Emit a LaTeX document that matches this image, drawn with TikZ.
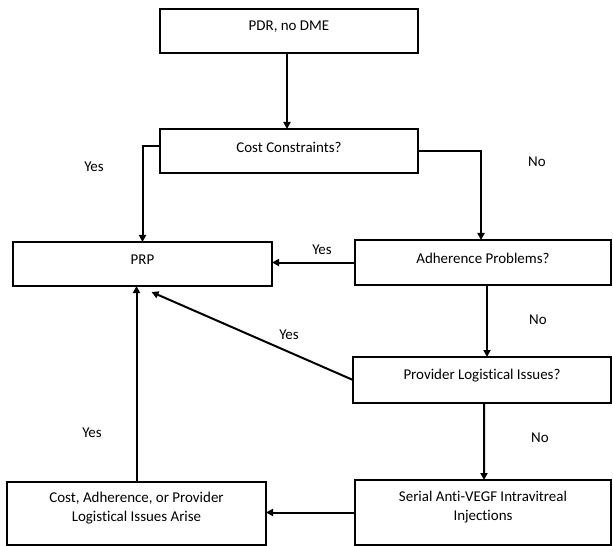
\documentclass[tikz,border=0pt]{standalone}
\usepackage{fontspec}
\setmainfont{Carlito}[Ligatures={NoCommon}]
\usetikzlibrary{arrows.meta}
\begin{document}
\begin{tikzpicture}[x=1bp,y=-1bp,
  box/.style={draw, line width=2.4bp, inner sep=0pt, outer sep=0pt},
  txt/.style={font=\fontsize{15}{19}\selectfont, align=center, inner sep=0pt},
  lbl/.style={font=\fontsize{15}{18}\selectfont, inner sep=0pt},
  arr/.style={line width=2bp, -{Triangle[length=7bp,width=7bp]}},
  ln/.style={line width=2bp}]
\useasboundingbox (0,0) rectangle (613,546);
% boxes
\node[box, minimum width=258bp, minimum height=44bp] (pdr) at (289,31) {};
\node[box, minimum width=258bp, minimum height=44bp] (cost) at (289,151) {};
\node[box, minimum width=259bp, minimum height=44bp] (prp) at (142.5,264) {};
\node[box, minimum width=256bp, minimum height=45bp] (adh) at (483,262.5) {};
\node[box, minimum width=258bp, minimum height=46bp] (prov) at (482,380) {};
\node[box, minimum width=256bp, minimum height=65bp] (serial) at (483,512.5) {};
\node[box, minimum width=259bp, minimum height=63bp] (arise) at (136.5,513.5) {};
% texts
\node[txt] (tpdr) at ([yshift=4bp]pdr.center) {PDR, no DME};
\node[txt] (tcost) at ([yshift=4bp]cost.center) {Cost Constraints?};
\node[txt] (tprp) at ([yshift=4bp]prp.center) {PRP};
\node[txt] (tadh) at ([yshift=4bp]adh.center) {Adherence Problems?};
\node[txt] (tprov) at ([yshift=4bp]prov.center) {Provider Logistical Issues?};
\node[txt] (tserial) at ([yshift=5bp]serial.center) {Serial Anti-VEGF Intravitreal\\Injections};
\node[txt] (tarise) at ([yshift=5bp]arise.center) {Cost, Adherence, or Provider\\Logistical Issues Arise};
% connectors
\draw[arr] ([xshift=-2bp]pdr.south) -- ([xshift=-2bp]cost.north);
\draw[arr] ([yshift=5bp]cost.west) -| (prp.north);
\draw[arr] (cost.east) -| ([xshift=-2bp]adh.north);
\draw[arr] (adh.west) -- (adh.west -| prp.east);
\draw[arr] ([xshift=4bp]adh.south) -- ([xshift=5bp]prov.north);
\coordinate (prpin) at ([xshift=9bp,yshift=-6bp]prp.south);
\draw[arr] (prov.west) -- (prpin);
\draw[arr] ([xshift=2bp]prov.south) -- ([xshift=1bp]serial.north);
\draw[arr] (serial.west) -- (serial.west -| arise.east);
\draw[arr] (arise.north) -- (arise.north |- prp.south);
% labels
\node[lbl] (y1) at (94,167) {Yes};
\node[lbl] (n1) at (537,162) {No};
\node[lbl] (y2) at (322,250) {Yes};
\node[lbl] (n2) at (538,320) {No};
\node[lbl] (y3) at (289,335) {Yes};
\node[lbl] (n3) at (540,438) {No};
\node[lbl] (y4) at (92,433) {Yes};
\end{tikzpicture}
\end{document}
